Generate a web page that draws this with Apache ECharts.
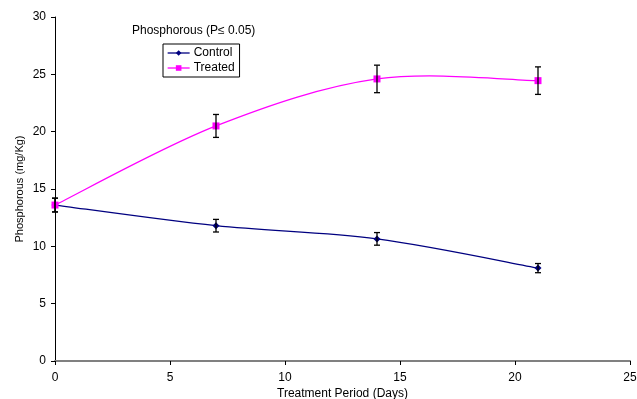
<!DOCTYPE html>
<html><head><meta charset="utf-8">
<script src="https://cdn.jsdelivr.net/npm/echarts@6/dist/echarts.min.js"></script>
<style>html,body{margin:0;padding:0;background:#fff}#c{width:637px;height:399px}</style>
</head><body><div id="c"></div>
<script>
const days = [0, 7, 14, 21];
const controlVals = [13.6, 11.8, 10.65, 8.1];
const controlErr = [0.6, 0.55, 0.55, 0.4];
const treatedVals = [13.6, 20.5, 24.6, 24.45];
const treatedErr = [0.6, 1.0, 1.2, 1.2];
const xTicks = [0, 5, 10, 15, 20, 25];
const yTicks = [0, 5, 10, 15, 20, 25, 30];

const font = '"Liberation Sans", Arial, sans-serif';
function pts(v){ return days.map((d,i)=>[d, v[i]]); }
function errs(v,e){ return days.map((d,i)=>[d, v[i]-e[i], v[i]+e[i]]); }
function errItem(params, api){
  const x = api.value(0);
  const lo = api.coord([x, api.value(1)]);
  const hi = api.coord([x, api.value(2)]);
  const w = 3;
  const st = {stroke:'#000', lineWidth:1.3};
  return {type:'group', children:[
    {type:'line', shape:{x1:lo[0],y1:lo[1],x2:hi[0],y2:hi[1]}, style:st},
    {type:'line', shape:{x1:lo[0]-w,y1:lo[1],x2:lo[0]+w,y2:lo[1]}, style:st},
    {type:'line', shape:{x1:hi[0]-w,y1:hi[1],x2:hi[0]+w,y2:hi[1]}, style:st}
  ]};
}
// Smoothed curve (spreadsheet-style cardinal spline) through the data, via the axes' coord mapping
function curveItem(vals, color){
  return function(params, api){
    if (params.dataIndex !== 0) return null;
    const P = days.map((d,i)=>api.coord([d, vals[i]]));
    const n = P.length, k = 1/6, children = [];
    for (let i=0;i<n-1;i++){
      const p0 = P[Math.max(i-1,0)], p1 = P[i], p2 = P[i+1], p3 = P[Math.min(i+2,n-1)];
      children.push({type:'bezierCurve', shape:{
        x1:p1[0], y1:p1[1], x2:p2[0], y2:p2[1],
        cpx1:p1[0]+(p2[0]-p0[0])*k, cpy1:p1[1]+(p2[1]-p0[1])*k,
        cpx2:p2[0]-(p3[0]-p1[0])*k, cpy2:p2[1]-(p3[1]-p1[1])*k},
        style:{stroke:color, lineWidth:1.3, fill:null}});
    }
    return {type:'group', children};
  };
}
const chart = echarts.init(document.getElementById('c'));
chart.setOption({
  animation:false,
  backgroundColor:'#fff',
  title:{text:'Phosphorous (P\u2264 0.05)', left:132, top:25, padding:0,
    textStyle:{fontFamily:font, fontSize:12, fontWeight:'normal', color:'#000'}},
  legend:{data:['Control','Treated'], orient:'vertical', left:163, top:44,
    borderColor:'#000', borderWidth:1, padding:[3,5,3,4], itemGap:3,
    itemWidth:22, itemHeight:7,
    lineStyle:{width:1.3, opacity:1},
    textStyle:{fontFamily:font, fontSize:12, color:'#000', padding:[0,0,0,-1]}},
  grid:{left:55, right:7, top:17, bottom:38, containLabel:false, outerBoundsMode:'none'},
  xAxis:{type:'value', min:0, max:25, interval:5,
    name:'Treatment Period (Days)', nameLocation:'middle', nameGap:27, nameMoveOverlap:false,
    nameTextStyle:{fontFamily:font, fontSize:12, color:'#000'},
    axisLine:{lineStyle:{color:'#808080', width:2}},
    axisTick:{show:true, length:4, lineStyle:{color:'#000'}},
    axisLabel:{fontFamily:font, fontSize:12, color:'#000', margin:11},
    splitLine:{show:false}},
  yAxis:{type:'value', min:0, max:30, interval:5,
    name:'Phosphorous (mg/Kg)', nameLocation:'middle', nameGap:30, nameMoveOverlap:false,
    nameTextStyle:{fontFamily:font, fontSize:11, color:'#000'},
    axisLine:{show:true, lineStyle:{color:'#000', width:1}},
    axisTick:{show:true, length:4, lineStyle:{color:'#000'}},
    axisLabel:{fontFamily:font, fontSize:12, color:'#000', margin:9},
    splitLine:{show:false}},
  series:[
    {name:'ctrlCurve', type:'custom', data:pts(controlVals), renderItem:curveItem(controlVals,'#000080'), z:2, silent:true},
    {name:'trtCurve', type:'custom', data:pts(treatedVals), renderItem:curveItem(treatedVals,'#FF00FF'), z:2, silent:true},
    {name:'Control', type:'line', data:pts(controlVals),
      symbol:'diamond', symbolSize:7, color:'#000080',
      lineStyle:{color:'#000080', width:0, opacity:0}, itemStyle:{color:'#000080'}, z:3},
    {name:'Treated', type:'line', data:pts(treatedVals),
      symbol:'rect', symbolSize:7, color:'#FF00FF',
      lineStyle:{color:'#FF00FF', width:0, opacity:0}, itemStyle:{color:'#FF00FF'}, z:3},
    {name:'ctrlErr', type:'custom', data:errs(controlVals,controlErr), renderItem:errItem, z:4},
    {name:'trtErr', type:'custom', data:errs(treatedVals,treatedErr), renderItem:errItem, z:4}
  ]
});
</script></body></html>
